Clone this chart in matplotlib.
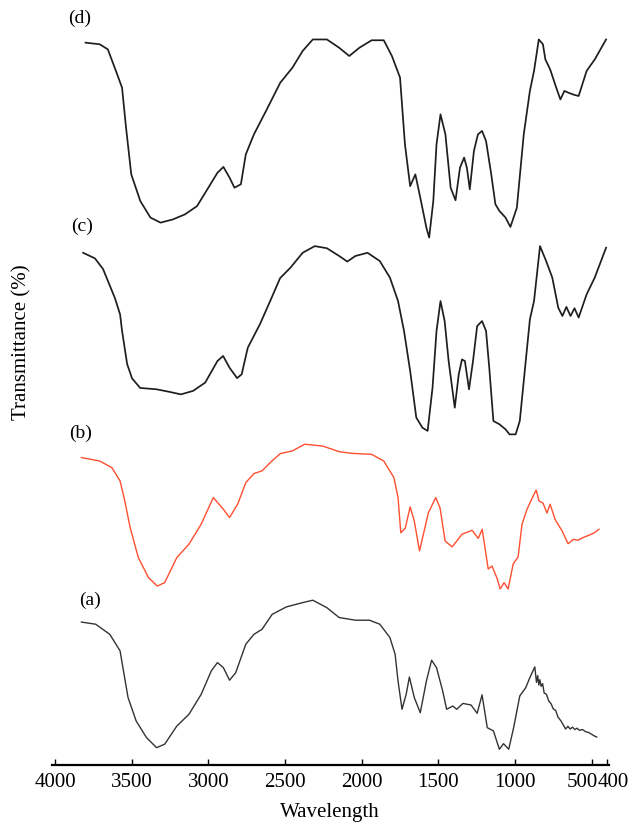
import matplotlib
matplotlib.use("Agg")
import matplotlib.pyplot as plt
from matplotlib.transforms import ScaledTranslation

plt.rcParams["font.family"] = ["Liberation Serif", "DejaVu Serif"]

# ---- spectra: wavenumber (cm-1) and transmittance (arbitrary units) ----------
wn_a = [3828, 3735, 3643, 3576, 3550, 3524, 3471, 3404, 3338, 3285, 3206, 3127,
        3047, 2981, 2941, 2902, 2862, 2822, 2756, 2703, 2650, 2584, 2491, 2385,
        2319, 2227, 2147, 2041, 1949, 1882, 1816, 1782, 1763, 1737, 1710, 1689,
        1657, 1618, 1578, 1544, 1512, 1472, 1446, 1406, 1380, 1340, 1287, 1247,
        1215, 1181, 1141, 1102, 1075, 1041, 1009, 969, 930, 903, 871, 860, 852,
        845, 838, 830, 820, 810, 795, 780, 765, 750, 735, 720, 700, 685, 670,
        655, 640, 625, 610, 595, 580, 560, 540, 520, 500, 480, 467]
t_a = [84.6, 83.8, 80.0, 73.8, 65.0, 56.3, 47.5, 41.3, 37.5, 38.8, 45.6, 50.0,
       57.5, 66.3, 69.4, 67.5, 62.8, 65.6, 76.3, 80.0, 81.9, 87.5, 90.3, 91.9,
       92.8, 90.0, 86.3, 85.3, 85.3, 83.8, 78.8, 72.5, 62.5, 51.9, 57.5, 64.0,
       56.3, 50.6, 62.5, 70.3, 67.5, 58.8, 51.9, 53.1, 51.9, 54.1, 53.5, 50.4,
       57.3, 45.0, 43.8, 36.9, 39.0, 36.9, 45.0, 56.9, 60.0, 63.8, 67.8, 62.0,
       64.5, 61.0, 63.0, 60.5, 61.5, 58.0, 57.5, 55.0, 54.0, 52.0, 51.5, 49.0,
       47.5, 46.0, 44.5, 45.5, 44.5, 45.2, 44.3, 44.8, 44.0, 44.3, 43.5, 43.2,
       42.5, 41.8, 41.5]

wn_b = [3828, 3709, 3629, 3576, 3550, 3510, 3457, 3391, 3333, 3285, 3206, 3127,
        3047, 2968, 2902, 2862, 2809, 2756, 2703, 2650, 2597, 2531, 2452, 2372,
        2253, 2147, 2068, 1935, 1856, 1790, 1763, 1745, 1716, 1684, 1657, 1623,
        1565, 1517, 1489, 1456, 1410, 1345, 1280, 1240, 1214, 1175, 1150, 1117,
        1097, 1071, 1045, 1012, 980, 954, 921, 889, 862, 843, 817, 792, 771,
        738, 693, 654, 620, 588, 560, 530, 500, 475, 453]
t_b = [86.3, 85.0, 82.5, 77.5, 71.3, 60.0, 48.8, 41.3, 38.1, 39.4, 48.8, 53.8,
       61.3, 71.3, 66.9, 63.8, 68.8, 76.9, 80.3, 81.3, 84.4, 87.8, 88.8, 91.3,
       90.6, 88.5, 87.9, 87.5, 85.0, 78.8, 71.3, 58.1, 59.8, 67.8, 62.5, 51.3,
       65.6, 71.3, 67.4, 55.0, 52.8, 57.6, 59.0, 56.0, 59.4, 44.5, 45.6, 41.0,
       37.0, 39.4, 37.0, 46.4, 49.0, 61.4, 67.0, 71.0, 74.1, 70.0, 69.2, 65.5,
       68.8, 63.0, 58.8, 54.0, 55.6, 55.3, 56.2, 56.9, 57.6, 58.4, 59.4]

wn_c = [3817, 3740, 3687, 3609, 3576, 3563, 3530, 3498, 3445, 3400, 3338, 3259,
        3179, 3100, 3021, 2941, 2904, 2862, 2813, 2783, 2743, 2663, 2597, 2532,
        2465, 2385, 2306, 2227, 2147, 2094, 2041, 1962, 1882, 1816, 1763, 1724,
        1684, 1644, 1604, 1570, 1538, 1512, 1486, 1459, 1433, 1393, 1367, 1346,
        1327, 1300, 1274, 1247, 1215, 1189, 1168, 1141, 1102, 1062, 1036, 996,
        969, 943, 903, 876, 837, 797, 757, 718, 691, 665, 638, 612, 585, 533,
        480, 406]
t_c = [88.1, 86.0, 82.0, 71.0, 65.0, 58.8, 46.4, 41.0, 37.4, 37.2, 36.9, 36.0,
       35.0, 36.3, 39.4, 47.5, 49.4, 45.0, 41.1, 42.5, 52.5, 61.4, 70.0, 78.6,
       82.5, 88.1, 90.6, 89.8, 86.9, 84.8, 86.9, 88.1, 85.0, 78.8, 70.0, 58.8,
       43.8, 26.3, 22.5, 21.3, 37.5, 58.8, 70.0, 62.5, 47.5, 30.0, 42.5, 48.1,
       47.5, 36.9, 47.5, 60.6, 62.5, 58.8, 45.0, 25.0, 23.8, 21.9, 20.0, 20.0,
       25.0, 40.0, 63.1, 70.0, 90.6, 85.0, 78.8, 67.5, 64.4, 67.8, 64.4, 67.3,
       63.8, 72.5, 78.8, 90.0]

wn_d = [3801, 3709, 3656, 3603, 3563, 3537, 3503, 3444, 3378, 3312, 3232, 3153,
        3074, 2994, 2941, 2902, 2862, 2830, 2788, 2756, 2703, 2624, 2531, 2452,
        2385, 2319, 2227, 2147, 2081, 2015, 1935, 1856, 1803, 1750, 1718, 1684,
        1650, 1618, 1578, 1560, 1533, 1512, 1486, 1454, 1420, 1388, 1359, 1332,
        1314, 1295, 1268, 1242, 1215, 1189, 1155, 1128, 1102, 1062, 1030, 988,
        943, 903, 876, 845, 818, 802, 771, 731, 704, 678, 651, 612, 585, 533,
        480, 406]
t_d = [84.4, 83.8, 81.9, 73.8, 67.5, 52.5, 35.0, 25.0, 18.8, 16.9, 18.1, 20.0,
       23.1, 30.6, 35.6, 37.8, 33.8, 30.0, 31.3, 42.5, 50.0, 58.8, 69.4, 75.0,
       81.3, 85.6, 85.6, 82.5, 79.4, 82.5, 85.3, 85.3, 79.4, 71.3, 46.3, 30.6,
       35.0, 26.3, 15.0, 11.3, 25.0, 46.3, 57.5, 50.0, 30.0, 25.3, 37.5, 41.3,
       37.5, 29.4, 43.8, 50.0, 51.3, 47.5, 35.0, 23.8, 21.3, 18.8, 15.3, 22.5,
       50.0, 66.3, 73.8, 85.6, 83.8, 78.1, 74.4, 67.5, 63.1, 66.3, 65.6, 64.8,
       64.4, 73.8, 78.1, 85.6]

labels = ["(a)", "(b)", "(c)", "(d)"]
shifts = [-31, 29, 104, 186.5]          # vertical stacking offsets
colors = ["#333333", "#FF4F30", "#1e1e1e", "#1e1e1e"]
widths = [1.0, 1.0, 1.25, 1.25]
xticks = [4000, 3500, 3000, 2500, 2000, 1500, 1000, 500, 400]

W, H = 641, 826
fig = plt.figure(figsize=(W / 100, H / 100), dpi=100)
ax = fig.add_axes([52 / W, 1 - 765 / H, (609 - 52) / W, (765 - 20) / H])

series = [(wn_a, t_a), (wn_b, t_b), (wn_c, t_c), (wn_d, t_d)]
for (wn, t), s, c, lw in zip(series, shifts, colors, widths):
    ax.plot(wn, [v + s for v in t], color=c, lw=lw)

ax.set_xlim(4020, 387)
ax.set_ylim(0, 279.4)
ax.set_xticks(xticks)
ax.set_xticklabels([str(v) for v in xticks])
ax.tick_params(axis="x", direction="in", length=4, width=1, labelsize=15, pad=6)
ax.set_yticks([])
for side in ["left", "right", "top"]:
    ax.spines[side].set_visible(False)
ax.spines["bottom"].set_linewidth(1.6)

# the last two tick labels sit side by side ("500400") as in the original
tl = ax.get_xticklabels()
tl[-2].set_transform(tl[-2].get_transform()
                     + ScaledTranslation(-0.09, 0, fig.dpi_scale_trans))
tl[-1].set_transform(tl[-1].get_transform()
                     + ScaledTranslation(0.06, 0, fig.dpi_scale_trans))

fig.text(330 / W, 1 - 813 / H, "Wavelength", ha="center", va="center", fontsize=15)
fig.text(22 / W, 1 - 342 / H, "Transmittance (%)", ha="center", va="center",
         rotation=90, fontsize=15)

label_pos = [(90, 600), (81, 433), (82, 226), (80, 18)]
for lbl, (x, y) in zip(labels, label_pos):
    fig.text(x / W, 1 - y / H, lbl, ha="center", va="center", fontsize=14)

fig.savefig("out.png", dpi=100, facecolor="white")
